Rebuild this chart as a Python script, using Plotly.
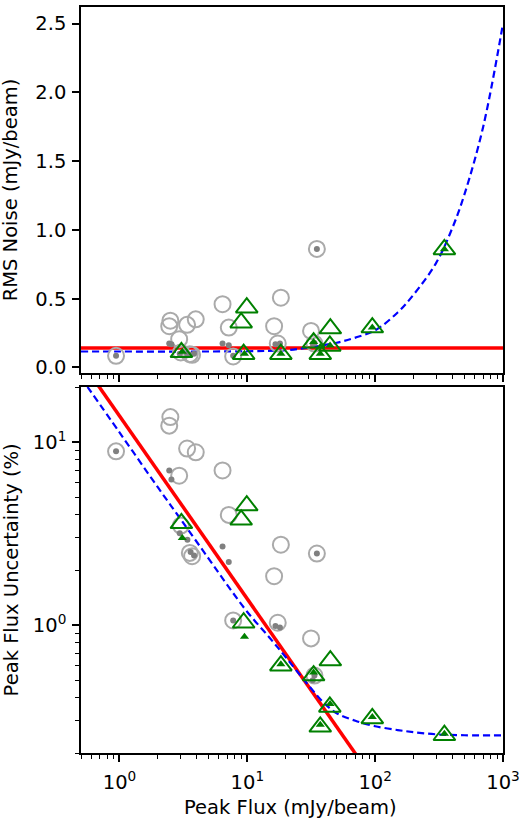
import numpy as np
import plotly.graph_objects as go

# ---------------- data ----------------
# gray open circles (shared x for both panels)
circ_x = [0.94, 2.45, 2.5, 2.93, 3.38, 3.95, 6.4, 7.16, 3.02, 3.55, 3.7, 7.75,
          35.0, 18.3, 16.2, 17.3, 31.5, 33.5]
circ_rms = [0.085, 0.30, 0.34, 0.206, 0.31, 0.35, 0.46, 0.29, 0.109, 0.097, 0.092, 0.08,
            0.862, 0.507, 0.30, 0.174, 0.266, 0.174]
circ_unc = [8.9, 12.3, 13.7, 6.55, 9.22, 8.8, 7.0, 4.0, 3.5, 2.48, 2.38, 1.06,
            2.46, 2.75, 1.85, 1.03, 0.846, 0.53]

# small gray filled dots
dot_x = [0.94, 2.45, 2.55, 2.96, 3.4, 3.6, 3.83, 6.4, 7.16, 7.75, 35.0, 16.6, 18.0, 32.5, 33.5]
dot_rms = [0.085, 0.174, 0.168, 0.10, 0.097, 0.092, 0.10, 0.174, 0.162, 0.085, 0.862,
           0.168, 0.175, 0.17, 0.178]
dot_unc = [8.9, 7.0, 6.25, 3.18, 2.93, 2.51, 2.4, 2.69, 2.21, 1.06, 2.46, 0.99, 0.97, 0.50, 0.53]

# green open triangles
tri_x = [3.05, 9.9, 8.95, 9.36, 18.3, 44.6, 44.2, 37.2, 33.0, 95.0, 348.0]
tri_rms = [0.11, 0.435, 0.326, 0.097, 0.097, 0.283, 0.157, 0.097, 0.18, 0.29, 0.858]
tri_unc = [3.6, 4.5, 3.76, 1.03, 0.60, 0.64, 0.357, 0.278, 0.53, 0.309, 0.25]

# small green filled triangles
ftri_x = [3.1, 9.5, 18.3, 33.0, 44.4, 37.2, 95.0, 348.0]
ftri_rms = [0.115, 0.10, 0.10, 0.185, 0.16, 0.10, 0.29, 0.86]
ftri_unc = [2.99, 0.864, 0.61, 0.55, 0.37, 0.285, 0.315, 0.255]

# model lines
red_rms_x = [0.5, 1000.0]
red_rms_y = [0.142, 0.142]
blue_rms_x = [0.5, 1, 3, 10, 20, 30, 50, 70, 100, 150, 200, 300, 400, 500, 700, 1000]
blue_rms_y = [0.116, 0.116, 0.116, 0.118, 0.126, 0.145, 0.18, 0.217, 0.27, 0.40, 0.53,
              0.76, 1.01, 1.26, 1.75, 2.5]
red_unc_x = [0.5, 100.0]
red_unc_y = [27.8, 0.139]
blue_unc_x = [0.5, 1, 2, 3, 5, 7, 10, 15, 20, 30, 40, 50, 70, 100, 150, 200, 300, 500, 1000]
blue_unc_y = [22.5, 11.3, 5.65, 3.8, 2.3, 1.65, 1.18, 0.85, 0.667, 0.47, 0.374, 0.33, 0.30,
              0.28, 0.267, 0.26, 0.253, 0.25, 0.25]

# ticks
x_major = [1, 10, 100, 1000]
x_major_text = ["10<sup>0</sup>", "10<sup>1</sup>", "10<sup>2</sup>", "10<sup>3</sup>"]
rms_ticks = [0.0, 0.5, 1.0, 1.5, 2.0, 2.5]
rms_text = ["0.0", "0.5", "1.0", "1.5", "2.0", "2.5"]
unc_major = [1, 10]
unc_major_text = ["10<sup>0</sup>", "10<sup>1</sup>"]

x_minor = [m * 10.0 ** e for e in range(-1, 3) for m in range(2, 10)]
x_minor = [v for v in x_minor if 0.5 <= v <= 1000]
unc_minor = [m * 10.0 ** e for e in range(-1, 2) for m in range(2, 10)]
unc_minor = [v for v in unc_minor if 0.2 <= v <= 20]

# ---------------- styles ----------------
FONT = "DejaVu Sans"
FS = 19.5
GRAYC = "#aaaaaa"
DOTC = "#808080"
GREEN = "#008000"

fig = go.Figure()

def add_panel(xa, ya, red_x, red_y, blue_x, blue_y, cy, dy, ty, fy):
    fig.add_trace(go.Scatter(x=red_x, y=red_y, mode="lines", xaxis=xa, yaxis=ya,
                             line=dict(color="#ff0000", width=3.5), showlegend=False))
    fig.add_trace(go.Scatter(x=blue_x, y=blue_y, mode="lines", xaxis=xa, yaxis=ya,
                             line=dict(color="#0000ff", width=2.2, dash="7px,4px", shape="spline"),
                             showlegend=False))
    fig.add_trace(go.Scatter(x=circ_x, y=cy, mode="markers", xaxis=xa, yaxis=ya,
                             marker=dict(symbol="circle-open", size=16, color=GRAYC,
                                         line=dict(width=2, color=GRAYC)), showlegend=False))
    fig.add_trace(go.Scatter(x=dot_x, y=dy, mode="markers", xaxis=xa, yaxis=ya,
                             marker=dict(symbol="circle", size=6, color=DOTC), showlegend=False))
    fig.add_trace(go.Scatter(x=tri_x, y=ty, mode="markers", xaxis=xa, yaxis=ya,
                             marker=dict(symbol="triangle-up-open", size=19, color=GREEN,
                                         line=dict(width=2, color=GREEN)), showlegend=False))
    fig.add_trace(go.Scatter(x=ftri_x, y=fy, mode="markers", xaxis=xa, yaxis=ya,
                             marker=dict(symbol="triangle-up", size=8, color=GREEN),
                             showlegend=False))

add_panel("x", "y", red_rms_x, red_rms_y, blue_rms_x, blue_rms_y,
          circ_rms, dot_rms, tri_rms, ftri_rms)
add_panel("x2", "y2", red_unc_x, red_unc_y, blue_unc_x, blue_unc_y,
          circ_unc, dot_unc, tri_unc, ftri_unc)

axis_common = dict(showline=True, mirror=True, linecolor="black", linewidth=1.5,
                   ticks="outside", ticklen=7, tickwidth=1.5, tickcolor="black",
                   showgrid=False, zeroline=False,
                   tickfont=dict(family=FONT, size=FS, color="black"))

x_minor_cfg = dict(tickvals=x_minor, ticks="outside", ticklen=4, tickwidth=1.2,
                   tickcolor="black", showgrid=False)

fig.update_layout(
    width=525, height=825,
    margin=dict(l=81, r=19, t=5, b=72),
    paper_bgcolor="white", plot_bgcolor="white",
    font=dict(family=FONT, size=FS, color="black"),
    xaxis=dict(type="log", range=[np.log10(0.5), 3], domain=[0, 1], anchor="y",
               tickvals=x_major, ticktext=x_major_text, showticklabels=False,
               minor=x_minor_cfg, **axis_common),
    yaxis=dict(range=[-0.04, 2.62], domain=[0.5094, 1], anchor="x",
               tickvals=rms_ticks, ticktext=rms_text, ticklabelstandoff=2, **axis_common),
    xaxis2=dict(type="log", range=[np.log10(0.5), 3], domain=[0, 1], anchor="y2",
                matches="x", tickvals=x_major, ticktext=x_major_text, ticklabelstandoff=4,
                minor=x_minor_cfg, **axis_common),
    yaxis2=dict(type="log", range=[np.log10(0.2), np.log10(20)], domain=[0, 0.4906],
                anchor="x2", tickvals=unc_major, ticktext=unc_major_text, ticklabelstandoff=2,
                minor=dict(tickvals=unc_minor, ticks="outside", ticklen=4, tickwidth=1.2,
                           tickcolor="black", showgrid=False),
                **axis_common),
)

fig.add_annotation(text="RMS Noise (mJy/beam)", xref="paper", yref="paper",
                   x=-0.165, y=0.7547, xanchor="center", yanchor="middle",
                   textangle=-90, showarrow=False, font=dict(family=FONT, size=FS))
fig.add_annotation(text="Peak Flux Uncertainty (%)", xref="paper", yref="paper",
                   x=-0.165, y=0.2453, xanchor="center", yanchor="middle",
                   textangle=-90, showarrow=False, font=dict(family=FONT, size=FS))
fig.add_annotation(text="Peak Flux (mJy/beam)", xref="paper", yref="paper",
                   x=0.4976, y=-0.0735, xanchor="center", yanchor="middle",
                   showarrow=False, font=dict(family=FONT, size=FS))

fig.write_html("out.html")
